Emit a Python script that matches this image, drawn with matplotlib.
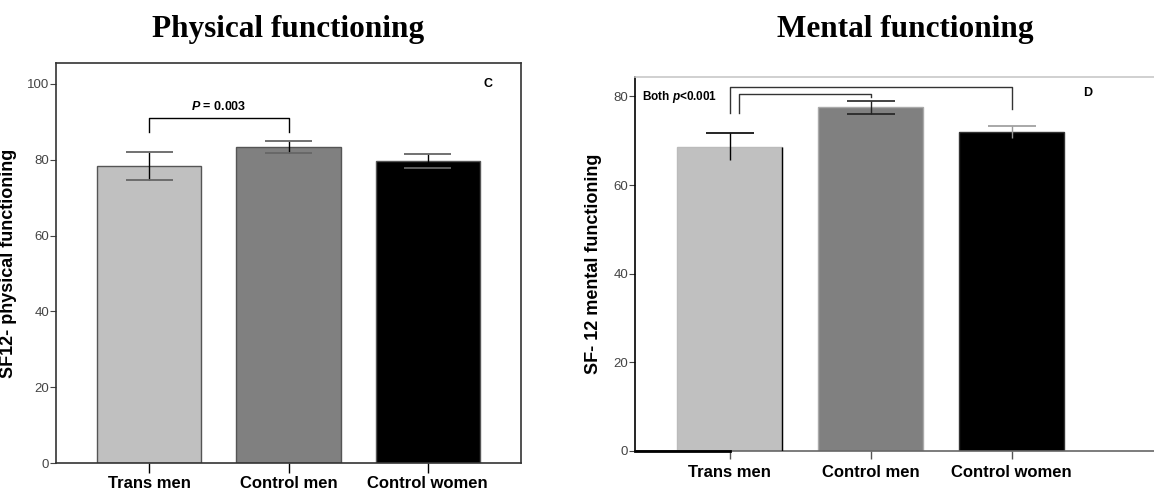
import matplotlib
matplotlib.use("Agg")
import matplotlib.pyplot as plt
import numpy as np

categories = ["Trans men", "Control men", "Control women"]
phys_mean = [78.4, 83.3, 79.6]
phys_lo = [74.7, 81.7, 77.8]
phys_hi = [82.1, 85.0, 81.6]
ment_mean = [68.5, 77.6, 72.0]
ment_lo = [65.7, 76.1, 70.6]
ment_hi = [71.8, 79.0, 73.4]
phys_yticks = [0, 20, 40, 60, 80, 100]
ment_yticks = [0, 20, 40, 60, 80]
bar_colors = ["#c0c0c0", "#808080", "#000000"]

plt.rcParams["mathtext.fontset"] = "custom"
plt.rcParams["mathtext.it"] = "Liberation Sans:italic:bold"
plt.rcParams["mathtext.rm"] = "Liberation Sans:bold"

SANS = ["Liberation Sans", "DejaVu Sans"]
SERIF = ["Liberation Serif", "DejaVu Serif"]

fig = plt.figure(figsize=(11.54, 4.9), dpi=100)
x = np.arange(len(categories))
width = 0.75


def style_yticks(ax):
    for lab in ax.get_yticklabels():
        lab.set_family(SANS)
        lab.set_fontstretch("condensed")
        lab.set_fontsize(9.5)
        lab.set_color("#555555")
    ax.tick_params(axis="y", direction="out", length=4, width=0.8, colors="#444444", pad=1)


# ---------- Left panel ----------
ax1 = fig.add_axes([0.0485, 0.0551, 0.403, 0.8163])
ax1.bar(x, phys_mean, width=width, color=bar_colors, edgecolor="#555555", linewidth=1.0, zorder=2)
for i in range(3):
    ax1.vlines(x[i], phys_lo[i], phys_hi[i], color="black", linewidth=1.0, zorder=3)
    ax1.hlines([phys_lo[i], phys_hi[i]], x[i] - 0.17, x[i] + 0.17,
               color="#666666", linewidth=1.3, zorder=3)
ax1.set_xlim(-0.67, 2.67)
ax1.set_ylim(0, 105.5)
ax1.set_yticks(phys_yticks)
ax1.set_xticks(x)
ax1.set_xticklabels(categories, fontsize=12, fontweight="bold", family=SANS)
style_yticks(ax1)
ax1.tick_params(axis="x", direction="out", length=7, width=1.0, pad=2)
for s in ax1.spines.values():
    s.set_color("#333333")
    s.set_linewidth(1.2)
ax1.set_ylabel("SF12- physical functioning", fontsize=13, fontweight="bold", family=SANS)
ax1.yaxis.set_label_coords(-0.0839, 0.5)
# bracket
by, bl = 90.9, 87.2
ax1.plot([x[0], x[0], x[1], x[1]], [bl, by, by, bl], color="black", linewidth=1.0, zorder=3)
xm = (x[0] + x[1]) / 2
ax1.text(xm, 94, r"$P$ = 0.003", fontsize=9, fontweight="bold", family=SANS,
         ha="center", va="center")
ax1.text(2.43, 100, "C", fontsize=9, fontweight="bold", family=SANS, ha="center", va="center")

# ---------- Right panel ----------
ax2 = fig.add_axes([0.5503, 0.0796, 0.4497, 0.7633])
edge_cols = ["#bbbbbb", "#aaaaaa", "#333333"]
ax2.bar(x, ment_mean, width=width, color=bar_colors, edgecolor=edge_cols, linewidth=1.0, zorder=2)
ax2.vlines(x[0] + width / 2, 0, ment_mean[0], color="black", linewidth=1.0, zorder=3)
err_cols = ["black", "#222222", "#999999"]
for i in range(3):
    ax2.vlines(x[i], ment_lo[i], ment_hi[i], color=err_cols[i], linewidth=1.0, zorder=3)
    caps = [ment_hi[i]] if i != 1 else [ment_lo[i], ment_hi[i]]
    ax2.hlines(caps, x[i] - 0.17, x[i] + 0.17, color=err_cols[i], linewidth=1.2, zorder=3)
ax2.set_xlim(-0.67, 3.01)
ax2.set_ylim(0, 84.4)
ax2.set_yticks(ment_yticks)
ax2.set_xticks(x)
ax2.set_xticklabels(categories, fontsize=12, fontweight="bold", family=SANS)
style_yticks(ax2)
ax2.tick_params(axis="x", direction="out", length=6, width=1.0, colors="#555555", pad=4)
for lab in ax2.get_xticklabels():
    lab.set_color("black")
ax2.spines["right"].set_visible(False)
ax2.spines["top"].set_color("#c8c8c8")
ax2.spines["top"].set_linewidth(1.2)
ax2.spines["left"].set_color("black")
ax2.spines["left"].set_linewidth(1.2)
ax2.spines["bottom"].set_color("#666666")
ax2.spines["bottom"].set_linewidth(1.2)
ax2.plot([-0.67, x[0]], [0, 0], color="black", linewidth=2.0, clip_on=False, zorder=4)
ax2.set_ylabel("SF- 12 mental functioning", fontsize=13, fontweight="bold", family=SANS)
ax2.yaxis.set_label_coords(-0.0636, 0.5)
# brackets
ax2.plot([x[0], x[0], x[2], x[2]], [76.3, 82.2, 82.2, 77.2], color="#333333", linewidth=1.0, zorder=3)
ax2.plot([x[0] + 0.07, x[0] + 0.07, x[1], x[1]], [76.3, 80.5, 80.5, 79.8], color="#333333",
         linewidth=1.0, zorder=3)
ax2.text(-0.62, 79.8, r"Both $p$<0.001", fontsize=8.5, fontweight="bold", family=SANS,
         ha="left", va="center")
ax2.text(2.54, 80.7, "D", fontsize=9, fontweight="bold", family=SANS, ha="center", va="center")

# Titles
fig.text(0.2495, 0.94, "Physical functioning", fontsize=22.5, fontweight="bold", family=SERIF,
         ha="center", va="center")
fig.text(0.7842, 0.94, "Mental functioning", fontsize=22.5, fontweight="bold", family=SERIF,
         ha="center", va="center")

fig.savefig("out.png", dpi=100)
